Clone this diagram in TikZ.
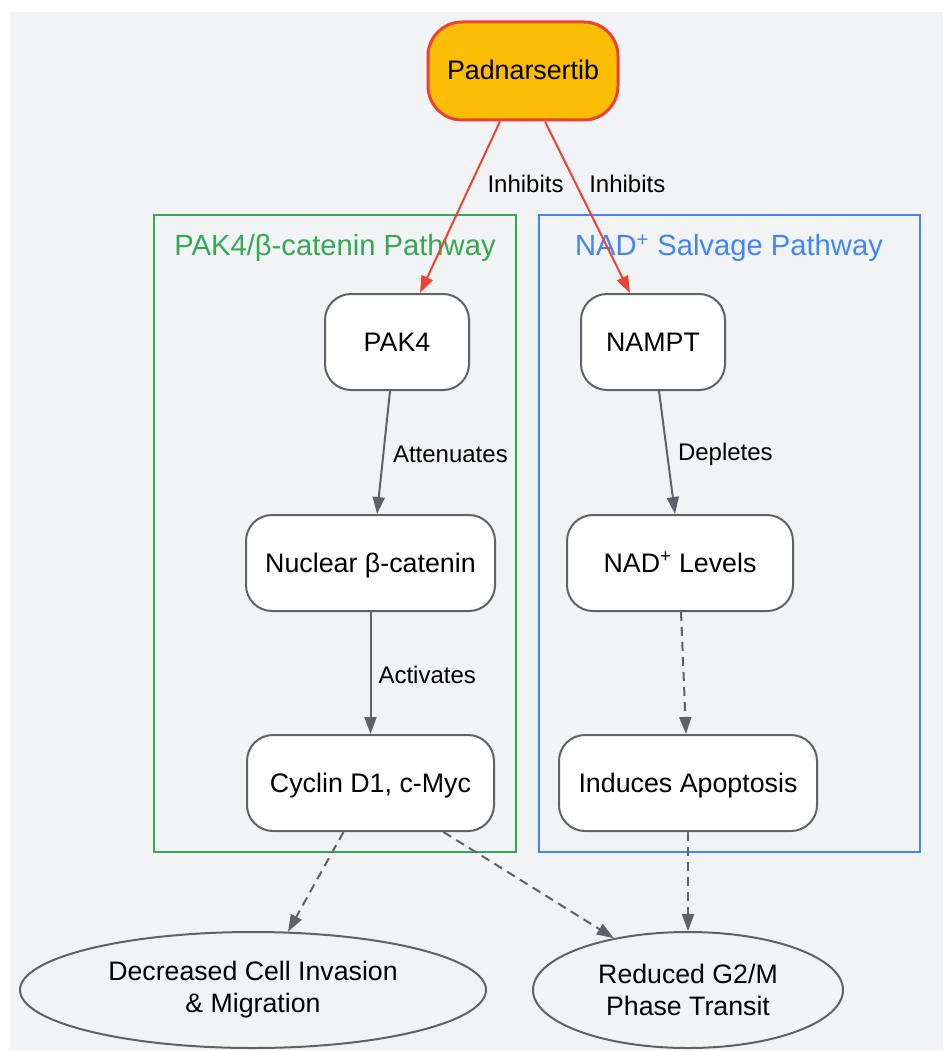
\documentclass[tikz,border=0pt]{standalone}
\usepackage{fontspec}
\setmainfont{Liberation Sans}
\usetikzlibrary{shapes.geometric,arrows.meta}

\definecolor{bggray}{HTML}{F1F3F4}
\definecolor{edgegray}{HTML}{5F6368}
\definecolor{drugyellow}{HTML}{FBBC04}
\definecolor{drugred}{HTML}{EA4335}
\definecolor{pakgreen}{HTML}{34A853}
\definecolor{nadblue}{HTML}{4285F4}

\begin{document}
\begin{tikzpicture}[x=1pt, y=-1pt,
    box/.style={draw=edgegray, line width=2pt, rounded corners=26pt, fill=white, inner sep=0pt,
        minimum height=96pt, text height=21pt, text depth=3pt, font=\fontsize{26.8}{32}\selectfont},
    outcome/.style={ellipse, draw=edgegray, line width=2pt, fill=bggray, inner sep=0pt,
        minimum height=116pt, align=center, font=\fontsize{26.7}{32}\selectfont},
    cluster/.style={line width=2pt, draw=#1},
    ctitle/.style={text=#1, font=\fontsize{29.2}{35}\selectfont},
    arr/.style={draw=edgegray, line width=2pt, -{Triangle[length=17pt, width=12pt]}},
    red arr/.style={draw=drugred, line width=2pt, -{Triangle[length=17pt, width=12pt]}},
    elabel/.style={anchor=west, inner sep=0pt, yshift=-2pt, font=\fontsize{24}{29}\selectfont}]

    \useasboundingbox (0,0) rectangle (945,1051);
    \fill[bggray] (10,12) rectangle (943,1050);

    % pathway clusters
    \draw[cluster=pakgreen] (154,215) rectangle (516,852);
    \node[ctitle=pakgreen] (pakTitle) at (335,247.5) {PAK4/β-catenin Pathway};
    \draw[cluster=nadblue] (539,215) rectangle (920,852);
    \node[ctitle=nadblue] (nadTitle) at (729,247.5) {NAD\textsuperscript{+} Salvage Pathway};

    % drug
    \node[box, fill=drugyellow, draw=drugred, line width=3pt, rounded corners=34pt,
        minimum width=190pt, minimum height=98pt] (pad) at (523,71) {Padnarsertib};

    % pathway nodes
    \node[box, minimum width=144pt] (pak4) at (397,342) {PAK4};
    \node[box, minimum width=249pt] (nuc) at (370.5,563) {Nuclear β-catenin};
    \node[box, minimum width=247pt] (cyc) at (370.5,783) {Cyclin D1, c-Myc};
    \node[box, minimum width=144pt] (nampt) at (653,342) {NAMPT};
    \node[box, minimum width=226pt] (nad) at (680,563) {NAD\textsuperscript{+} Levels};
    \node[box, minimum width=258pt] (apo) at (688,783) {Induces Apoptosis};

    % outcomes
    \node[outcome, minimum width=466pt] (dec) at (253,990) {Decreased Cell Invasion\\\& Migration};
    \node[outcome, minimum width=310pt] (red) at (688,990) {Reduced G2/M\\Phase Transit};

    % connectors
    \draw[red arr] ([xshift=-23pt]pad.south) -- node[elabel, pos=0.356, xshift=15pt, yshift=1pt] {Inhibits} ([xshift=23pt]pak4.north);
    \draw[red arr] ([xshift=22pt]pad.south) -- node[elabel, pos=0.356, xshift=13pt, yshift=1pt] {Inhibits} ([xshift=-23pt]nampt.north);
    \draw[arr] ([xshift=-7pt]pak4.south) -- node[elabel, xshift=8.5pt] {Attenuates} ([xshift=6.5pt]nuc.north);
    \draw[arr] (nuc.south) -- node[elabel, xshift=7pt] {Activates} (cyc.north);
    \draw[arr] ([xshift=6pt]nampt.south) -- node[elabel, xshift=10pt] {Depletes} ([xshift=-5pt]nad.north);
    \draw[arr, dashed, dash pattern=on 9pt off 6pt] ([xshift=1pt]nad.south) -- ([xshift=-2pt]apo.north);
    \draw[arr, dashed, dash pattern=on 9pt off 6pt] ([xshift=-27pt]cyc.south) -- (dec.59);
    \draw[arr, dashed, dash pattern=on 9pt off 6pt] ([xshift=73pt]cyc.south) -- (red.145);
    \draw[arr, dashed, dash pattern=on 9pt off 6pt] (apo.south) -- (red.north);
\end{tikzpicture}
\end{document}
